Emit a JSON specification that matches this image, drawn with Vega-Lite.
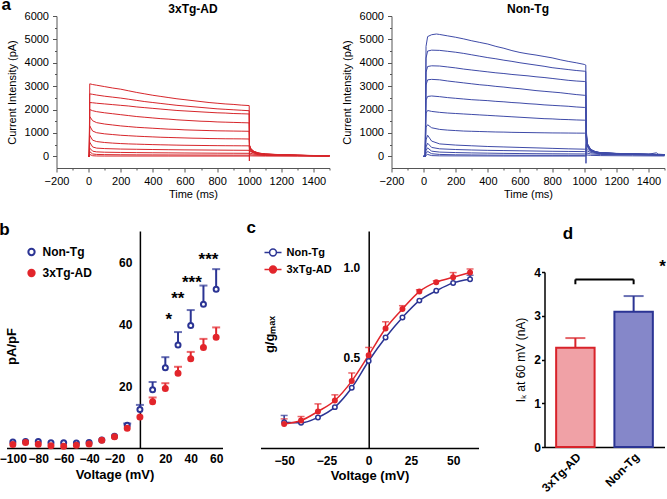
{
"$schema": "https://vega.github.io/schema/vega-lite/v6.json",
"padding": {"left": -1.5, "top": -4, "right": 0, "bottom": 0},
"background": "white",
"config": {
  "view": {"stroke": null},
  "font": "Liberation Sans",
  "axis": {"grid": false, "labelFlush": false, "labelOverlap": false, "domainColor": "#000", "tickColor": "#000", "labelColor": "#000", "titleColor": "#000", "labelFont": "Liberation Sans", "titleFont": "Liberation Sans"},
  "title": {"font": "Liberation Sans", "color": "#000"},
  "text": {"font": "Liberation Sans"}
},
"datasets": {
  "ad": [
    {"s":1,"t":0,"v":0},{"s":1,"t":4,"v":0},{"s":1,"t":7,"v":3100},{"s":1,"t":25,"v":3070},{"s":1,"t":50,"v":3040},{"s":1,"t":100,"v":2980},{"s":1,"t":150,"v":2920},{"s":1,"t":200,"v":2870},{"s":1,"t":250,"v":2800},{"s":1,"t":300,"v":2730},{"s":1,"t":350,"v":2670},{"s":1,"t":400,"v":2610},{"s":1,"t":450,"v":2560},{"s":1,"t":500,"v":2510},{"s":1,"t":550,"v":2460},{"s":1,"t":600,"v":2420},{"s":1,"t":650,"v":2380},{"s":1,"t":700,"v":2340},{"s":1,"t":750,"v":2300},{"s":1,"t":800,"v":2270},{"s":1,"t":850,"v":2240},{"s":1,"t":900,"v":2220},{"s":1,"t":950,"v":2190},{"s":1,"t":1000,"v":2170},{"s":1,"t":1001,"v":-200},{"s":1,"t":1002,"v":480},{"s":1,"t":1010,"v":330},{"s":1,"t":1030,"v":210},{"s":1,"t":1060,"v":140},{"s":1,"t":1100,"v":100},{"s":1,"t":1200,"v":70},{"s":1,"t":1300,"v":50},{"s":1,"t":1400,"v":35},{"s":1,"t":1500,"v":30},
    {"s":2,"t":0,"v":0},{"s":2,"t":4,"v":0},{"s":2,"t":7,"v":2670},{"s":2,"t":25,"v":2650},{"s":2,"t":50,"v":2620},{"s":2,"t":100,"v":2570},{"s":2,"t":150,"v":2530},{"s":2,"t":200,"v":2490},{"s":2,"t":250,"v":2440},{"s":2,"t":300,"v":2390},{"s":2,"t":350,"v":2340},{"s":2,"t":400,"v":2300},{"s":2,"t":450,"v":2260},{"s":2,"t":500,"v":2220},{"s":2,"t":550,"v":2180},{"s":2,"t":600,"v":2150},{"s":2,"t":650,"v":2120},{"s":2,"t":700,"v":2090},{"s":2,"t":750,"v":2060},{"s":2,"t":800,"v":2030},{"s":2,"t":850,"v":2010},{"s":2,"t":900,"v":1990},{"s":2,"t":950,"v":1970},{"s":2,"t":1000,"v":1950},{"s":2,"t":1002,"v":460},{"s":2,"t":1010,"v":320},{"s":2,"t":1030,"v":200},{"s":2,"t":1060,"v":135},{"s":2,"t":1100,"v":95},{"s":2,"t":1200,"v":65},{"s":2,"t":1300,"v":45},{"s":2,"t":1400,"v":30},{"s":2,"t":1500,"v":25},
    {"s":3,"t":0,"v":0},{"s":3,"t":4,"v":0},{"s":3,"t":7,"v":2300},{"s":3,"t":25,"v":2290},{"s":3,"t":50,"v":2270},{"s":3,"t":100,"v":2240},{"s":3,"t":150,"v":2210},{"s":3,"t":200,"v":2180},{"s":3,"t":250,"v":2150},{"s":3,"t":300,"v":2110},{"s":3,"t":350,"v":2080},{"s":3,"t":400,"v":2050},{"s":3,"t":450,"v":2020},{"s":3,"t":500,"v":1990},{"s":3,"t":550,"v":1960},{"s":3,"t":600,"v":1940},{"s":3,"t":650,"v":1920},{"s":3,"t":700,"v":1900},{"s":3,"t":750,"v":1880},{"s":3,"t":800,"v":1860},{"s":3,"t":850,"v":1850},{"s":3,"t":900,"v":1830},{"s":3,"t":950,"v":1820},{"s":3,"t":1000,"v":1810},{"s":3,"t":1002,"v":450},{"s":3,"t":1010,"v":310},{"s":3,"t":1030,"v":195},{"s":3,"t":1060,"v":130},{"s":3,"t":1100,"v":95},{"s":3,"t":1200,"v":65},{"s":3,"t":1300,"v":45},{"s":3,"t":1400,"v":30},{"s":3,"t":1500,"v":25},
    {"s":4,"t":0,"v":0},{"s":4,"t":4,"v":0},{"s":4,"t":7,"v":2000},{"s":4,"t":25,"v":1950},{"s":4,"t":50,"v":1910},{"s":4,"t":100,"v":1860},{"s":4,"t":150,"v":1820},{"s":4,"t":200,"v":1780},{"s":4,"t":250,"v":1740},{"s":4,"t":300,"v":1700},{"s":4,"t":350,"v":1670},{"s":4,"t":400,"v":1640},{"s":4,"t":450,"v":1610},{"s":4,"t":500,"v":1590},{"s":4,"t":550,"v":1560},{"s":4,"t":600,"v":1540},{"s":4,"t":650,"v":1520},{"s":4,"t":700,"v":1500},{"s":4,"t":750,"v":1490},{"s":4,"t":800,"v":1470},{"s":4,"t":850,"v":1460},{"s":4,"t":900,"v":1450},{"s":4,"t":950,"v":1440},{"s":4,"t":1000,"v":1430},{"s":4,"t":1002,"v":430},{"s":4,"t":1010,"v":300},{"s":4,"t":1030,"v":190},{"s":4,"t":1060,"v":125},{"s":4,"t":1100,"v":90},{"s":4,"t":1200,"v":60},{"s":4,"t":1300,"v":40},{"s":4,"t":1400,"v":30},{"s":4,"t":1500,"v":20},
    {"s":5,"t":0,"v":0},{"s":5,"t":4,"v":0},{"s":5,"t":7,"v":1700},{"s":5,"t":25,"v":1520},{"s":5,"t":50,"v":1440},{"s":5,"t":100,"v":1380},{"s":5,"t":150,"v":1340},{"s":5,"t":200,"v":1300},{"s":5,"t":250,"v":1270},{"s":5,"t":300,"v":1240},{"s":5,"t":350,"v":1220},{"s":5,"t":400,"v":1200},{"s":5,"t":450,"v":1180},{"s":5,"t":500,"v":1160},{"s":5,"t":550,"v":1150},{"s":5,"t":600,"v":1130},{"s":5,"t":650,"v":1120},{"s":5,"t":700,"v":1110},{"s":5,"t":750,"v":1100},{"s":5,"t":800,"v":1090},{"s":5,"t":850,"v":1085},{"s":5,"t":900,"v":1080},{"s":5,"t":950,"v":1075},{"s":5,"t":1000,"v":1070},{"s":5,"t":1002,"v":400},{"s":5,"t":1010,"v":280},{"s":5,"t":1030,"v":180},{"s":5,"t":1060,"v":120},{"s":5,"t":1100,"v":85},{"s":5,"t":1200,"v":60},{"s":5,"t":1300,"v":40},{"s":5,"t":1400,"v":30},{"s":5,"t":1500,"v":20},
    {"s":6,"t":0,"v":0},{"s":6,"t":4,"v":0},{"s":6,"t":7,"v":1300},{"s":6,"t":25,"v":1080},{"s":6,"t":50,"v":1010},{"s":6,"t":100,"v":960},{"s":6,"t":150,"v":930},{"s":6,"t":200,"v":900},{"s":6,"t":250,"v":880},{"s":6,"t":300,"v":860},{"s":6,"t":350,"v":845},{"s":6,"t":400,"v":830},{"s":6,"t":450,"v":815},{"s":6,"t":500,"v":805},{"s":6,"t":550,"v":795},{"s":6,"t":600,"v":785},{"s":6,"t":650,"v":775},{"s":6,"t":700,"v":770},{"s":6,"t":750,"v":760},{"s":6,"t":800,"v":755},{"s":6,"t":850,"v":750},{"s":6,"t":900,"v":748},{"s":6,"t":950,"v":745},{"s":6,"t":1000,"v":740},{"s":6,"t":1002,"v":360},{"s":6,"t":1010,"v":250},{"s":6,"t":1030,"v":170},{"s":6,"t":1060,"v":115},{"s":6,"t":1100,"v":80},{"s":6,"t":1200,"v":55},{"s":6,"t":1300,"v":40},{"s":6,"t":1400,"v":25},{"s":6,"t":1500,"v":20},
    {"s":7,"t":0,"v":0},{"s":7,"t":4,"v":0},{"s":7,"t":7,"v":900},{"s":7,"t":25,"v":690},{"s":7,"t":50,"v":630},{"s":7,"t":100,"v":590},{"s":7,"t":150,"v":565},{"s":7,"t":200,"v":545},{"s":7,"t":250,"v":530},{"s":7,"t":300,"v":520},{"s":7,"t":350,"v":510},{"s":7,"t":400,"v":500},{"s":7,"t":450,"v":492},{"s":7,"t":500,"v":485},{"s":7,"t":550,"v":478},{"s":7,"t":600,"v":472},{"s":7,"t":650,"v":468},{"s":7,"t":700,"v":463},{"s":7,"t":750,"v":459},{"s":7,"t":800,"v":456},{"s":7,"t":850,"v":453},{"s":7,"t":900,"v":451},{"s":7,"t":950,"v":449},{"s":7,"t":1000,"v":447},{"s":7,"t":1002,"v":300},{"s":7,"t":1010,"v":220},{"s":7,"t":1030,"v":150},{"s":7,"t":1060,"v":100},{"s":7,"t":1100,"v":75},{"s":7,"t":1200,"v":50},{"s":7,"t":1300,"v":35},{"s":7,"t":1400,"v":25},{"s":7,"t":1500,"v":20},
    {"s":8,"t":0,"v":0},{"s":8,"t":4,"v":0},{"s":8,"t":7,"v":600},{"s":8,"t":25,"v":400},{"s":8,"t":50,"v":350},{"s":8,"t":100,"v":330},{"s":8,"t":200,"v":310},{"s":8,"t":300,"v":300},{"s":8,"t":400,"v":290},{"s":8,"t":500,"v":282},{"s":8,"t":600,"v":275},{"s":8,"t":700,"v":270},{"s":8,"t":800,"v":265},{"s":8,"t":900,"v":260},{"s":8,"t":1000,"v":256},{"s":8,"t":1002,"v":220},{"s":8,"t":1030,"v":130},{"s":8,"t":1100,"v":70},{"s":8,"t":1300,"v":40},{"s":8,"t":1500,"v":20},
    {"s":9,"t":0,"v":0},{"s":9,"t":4,"v":0},{"s":9,"t":7,"v":350},{"s":9,"t":25,"v":220},{"s":9,"t":50,"v":190},{"s":9,"t":100,"v":175},{"s":9,"t":200,"v":165},{"s":9,"t":300,"v":158},{"s":9,"t":400,"v":152},{"s":9,"t":500,"v":147},{"s":9,"t":600,"v":142},{"s":9,"t":700,"v":138},{"s":9,"t":800,"v":134},{"s":9,"t":900,"v":131},{"s":9,"t":1000,"v":128},{"s":9,"t":1002,"v":140},{"s":9,"t":1030,"v":90},{"s":9,"t":1100,"v":50},{"s":9,"t":1300,"v":30},{"s":9,"t":1500,"v":15},
    {"s":10,"t":0,"v":0},{"s":10,"t":4,"v":0},{"s":10,"t":7,"v":200},{"s":10,"t":25,"v":100},{"s":10,"t":50,"v":80},{"s":10,"t":100,"v":72},{"s":10,"t":200,"v":66},{"s":10,"t":300,"v":62},{"s":10,"t":400,"v":60},{"s":10,"t":500,"v":58},{"s":10,"t":600,"v":56},{"s":10,"t":700,"v":54},{"s":10,"t":800,"v":53},{"s":10,"t":900,"v":51},{"s":10,"t":1000,"v":50},{"s":10,"t":1002,"v":70},{"s":10,"t":1030,"v":50},{"s":10,"t":1100,"v":35},{"s":10,"t":1300,"v":20},{"s":10,"t":1500,"v":10},
    {"s":11,"t":0,"v":0},{"s":11,"t":4,"v":0},{"s":11,"t":7,"v":80},{"s":11,"t":25,"v":25},{"s":11,"t":50,"v":15},{"s":11,"t":100,"v":12},{"s":11,"t":500,"v":11},{"s":11,"t":1000,"v":10},{"s":11,"t":1002,"v":20},{"s":11,"t":1030,"v":15},{"s":11,"t":1100,"v":10},{"s":11,"t":1300,"v":10},{"s":11,"t":1500,"v":5}
  ],
  "nt": [
    {"s":1,"t":0,"v":0},{"s":1,"t":10,"v":0},{"s":1,"t":15,"v":4700},{"s":1,"t":25,"v":5120},{"s":1,"t":50,"v":5200},{"s":1,"t":80,"v":5230},{"s":1,"t":100,"v":5210},{"s":1,"t":150,"v":5150},{"s":1,"t":200,"v":5090},{"s":1,"t":250,"v":5020},{"s":1,"t":300,"v":4940},{"s":1,"t":350,"v":4870},{"s":1,"t":400,"v":4800},{"s":1,"t":450,"v":4700},{"s":1,"t":500,"v":4620},{"s":1,"t":550,"v":4520},{"s":1,"t":600,"v":4440},{"s":1,"t":650,"v":4380},{"s":1,"t":700,"v":4330},{"s":1,"t":750,"v":4270},{"s":1,"t":800,"v":4210},{"s":1,"t":850,"v":4130},{"s":1,"t":900,"v":4060},{"s":1,"t":950,"v":4000},{"s":1,"t":1000,"v":3930},{"s":1,"t":1010,"v":3900},{"s":1,"t":1011,"v":-300},{"s":1,"t":1013,"v":1100},{"s":1,"t":1020,"v":550},{"s":1,"t":1040,"v":300},{"s":1,"t":1070,"v":200},{"s":1,"t":1100,"v":160},{"s":1,"t":1200,"v":125},{"s":1,"t":1300,"v":105},{"s":1,"t":1400,"v":90},{"s":1,"t":1450,"v":150},{"s":1,"t":1460,"v":90},{"s":1,"t":1500,"v":75},
    {"s":2,"t":0,"v":0},{"s":2,"t":10,"v":0},{"s":2,"t":15,"v":4200},{"s":2,"t":25,"v":4500},{"s":2,"t":50,"v":4540},{"s":2,"t":100,"v":4530},{"s":2,"t":150,"v":4490},{"s":2,"t":200,"v":4450},{"s":2,"t":250,"v":4400},{"s":2,"t":300,"v":4340},{"s":2,"t":350,"v":4280},{"s":2,"t":400,"v":4220},{"s":2,"t":450,"v":4170},{"s":2,"t":500,"v":4110},{"s":2,"t":550,"v":4060},{"s":2,"t":600,"v":4000},{"s":2,"t":650,"v":3950},{"s":2,"t":700,"v":3900},{"s":2,"t":750,"v":3850},{"s":2,"t":800,"v":3790},{"s":2,"t":850,"v":3750},{"s":2,"t":900,"v":3710},{"s":2,"t":950,"v":3670},{"s":2,"t":1000,"v":3640},{"s":2,"t":1010,"v":3630},{"s":2,"t":1013,"v":1000},{"s":2,"t":1020,"v":520},{"s":2,"t":1040,"v":290},{"s":2,"t":1070,"v":195},{"s":2,"t":1100,"v":155},{"s":2,"t":1200,"v":120},{"s":2,"t":1300,"v":100},{"s":2,"t":1400,"v":88},{"s":2,"t":1500,"v":75},
    {"s":3,"t":0,"v":0},{"s":3,"t":10,"v":0},{"s":3,"t":15,"v":3600},{"s":3,"t":25,"v":3840},{"s":3,"t":50,"v":3870},{"s":3,"t":100,"v":3860},{"s":3,"t":150,"v":3820},{"s":3,"t":200,"v":3780},{"s":3,"t":250,"v":3730},{"s":3,"t":300,"v":3690},{"s":3,"t":350,"v":3650},{"s":3,"t":400,"v":3610},{"s":3,"t":450,"v":3570},{"s":3,"t":500,"v":3540},{"s":3,"t":550,"v":3500},{"s":3,"t":600,"v":3470},{"s":3,"t":650,"v":3440},{"s":3,"t":700,"v":3400},{"s":3,"t":750,"v":3370},{"s":3,"t":800,"v":3330},{"s":3,"t":850,"v":3290},{"s":3,"t":900,"v":3250},{"s":3,"t":950,"v":3220},{"s":3,"t":1000,"v":3200},{"s":3,"t":1010,"v":3190},{"s":3,"t":1013,"v":950},{"s":3,"t":1020,"v":500},{"s":3,"t":1040,"v":280},{"s":3,"t":1070,"v":190},{"s":3,"t":1100,"v":150},{"s":3,"t":1200,"v":120},{"s":3,"t":1300,"v":100},{"s":3,"t":1400,"v":85},{"s":3,"t":1500,"v":70},
    {"s":4,"t":0,"v":0},{"s":4,"t":10,"v":0},{"s":4,"t":15,"v":3050},{"s":4,"t":25,"v":3270},{"s":4,"t":50,"v":3290},{"s":4,"t":100,"v":3270},{"s":4,"t":150,"v":3220},{"s":4,"t":200,"v":3180},{"s":4,"t":250,"v":3140},{"s":4,"t":300,"v":3100},{"s":4,"t":350,"v":3060},{"s":4,"t":400,"v":3030},{"s":4,"t":450,"v":2990},{"s":4,"t":500,"v":2960},{"s":4,"t":550,"v":2920},{"s":4,"t":600,"v":2890},{"s":4,"t":650,"v":2850},{"s":4,"t":700,"v":2810},{"s":4,"t":750,"v":2780},{"s":4,"t":800,"v":2750},{"s":4,"t":850,"v":2720},{"s":4,"t":900,"v":2680},{"s":4,"t":950,"v":2640},{"s":4,"t":1000,"v":2610},{"s":4,"t":1010,"v":2600},{"s":4,"t":1013,"v":900},{"s":4,"t":1020,"v":480},{"s":4,"t":1040,"v":270},{"s":4,"t":1070,"v":185},{"s":4,"t":1100,"v":148},{"s":4,"t":1200,"v":118},{"s":4,"t":1300,"v":98},{"s":4,"t":1400,"v":84},{"s":4,"t":1500,"v":70},
    {"s":5,"t":0,"v":0},{"s":5,"t":10,"v":0},{"s":5,"t":15,"v":2400},{"s":5,"t":25,"v":2560},{"s":5,"t":50,"v":2580},{"s":5,"t":100,"v":2550},{"s":5,"t":150,"v":2510},{"s":5,"t":200,"v":2480},{"s":5,"t":250,"v":2450},{"s":5,"t":300,"v":2420},{"s":5,"t":350,"v":2400},{"s":5,"t":400,"v":2380},{"s":5,"t":450,"v":2350},{"s":5,"t":500,"v":2330},{"s":5,"t":550,"v":2300},{"s":5,"t":600,"v":2280},{"s":5,"t":650,"v":2250},{"s":5,"t":700,"v":2230},{"s":5,"t":750,"v":2200},{"s":5,"t":800,"v":2180},{"s":5,"t":850,"v":2160},{"s":5,"t":900,"v":2140},{"s":5,"t":950,"v":2110},{"s":5,"t":1000,"v":2090},{"s":5,"t":1010,"v":2090},{"s":5,"t":1013,"v":850},{"s":5,"t":1020,"v":460},{"s":5,"t":1040,"v":260},{"s":5,"t":1070,"v":180},{"s":5,"t":1100,"v":145},{"s":5,"t":1200,"v":115},{"s":5,"t":1300,"v":96},{"s":5,"t":1400,"v":82},{"s":5,"t":1500,"v":68},
    {"s":6,"t":0,"v":0},{"s":6,"t":10,"v":0},{"s":6,"t":15,"v":1850},{"s":6,"t":25,"v":1960},{"s":6,"t":50,"v":1920},{"s":6,"t":100,"v":1880},{"s":6,"t":150,"v":1850},{"s":6,"t":200,"v":1830},{"s":6,"t":250,"v":1810},{"s":6,"t":300,"v":1790},{"s":6,"t":350,"v":1770},{"s":6,"t":400,"v":1750},{"s":6,"t":450,"v":1730},{"s":6,"t":500,"v":1710},{"s":6,"t":550,"v":1690},{"s":6,"t":600,"v":1670},{"s":6,"t":650,"v":1650},{"s":6,"t":700,"v":1630},{"s":6,"t":750,"v":1610},{"s":6,"t":800,"v":1600},{"s":6,"t":850,"v":1580},{"s":6,"t":900,"v":1570},{"s":6,"t":950,"v":1555},{"s":6,"t":1000,"v":1545},{"s":6,"t":1010,"v":1540},{"s":6,"t":1013,"v":800},{"s":6,"t":1020,"v":440},{"s":6,"t":1040,"v":250},{"s":6,"t":1070,"v":175},{"s":6,"t":1100,"v":140},{"s":6,"t":1200,"v":112},{"s":6,"t":1300,"v":94},{"s":6,"t":1400,"v":80},{"s":6,"t":1500,"v":66},
    {"s":7,"t":0,"v":0},{"s":7,"t":10,"v":0},{"s":7,"t":15,"v":1250},{"s":7,"t":25,"v":1350},{"s":7,"t":50,"v":1220},{"s":7,"t":100,"v":1150},{"s":7,"t":150,"v":1120},{"s":7,"t":200,"v":1100},{"s":7,"t":250,"v":1080},{"s":7,"t":300,"v":1070},{"s":7,"t":350,"v":1060},{"s":7,"t":400,"v":1050},{"s":7,"t":450,"v":1040},{"s":7,"t":500,"v":1035},{"s":7,"t":550,"v":1025},{"s":7,"t":600,"v":1020},{"s":7,"t":650,"v":1015},{"s":7,"t":700,"v":1010},{"s":7,"t":750,"v":1005},{"s":7,"t":800,"v":1000},{"s":7,"t":850,"v":998},{"s":7,"t":900,"v":995},{"s":7,"t":950,"v":992},{"s":7,"t":1000,"v":990},{"s":7,"t":1010,"v":990},{"s":7,"t":1013,"v":700},{"s":7,"t":1020,"v":400},{"s":7,"t":1040,"v":240},{"s":7,"t":1070,"v":170},{"s":7,"t":1100,"v":135},{"s":7,"t":1200,"v":110},{"s":7,"t":1300,"v":92},{"s":7,"t":1400,"v":78},{"s":7,"t":1500,"v":64},
    {"s":8,"t":0,"v":0},{"s":8,"t":10,"v":0},{"s":8,"t":15,"v":700},{"s":8,"t":25,"v":900},{"s":8,"t":50,"v":650},{"s":8,"t":100,"v":530},{"s":8,"t":200,"v":480},{"s":8,"t":300,"v":450},{"s":8,"t":400,"v":420},{"s":8,"t":500,"v":400},{"s":8,"t":600,"v":380},{"s":8,"t":700,"v":360},{"s":8,"t":800,"v":340},{"s":8,"t":900,"v":320},{"s":8,"t":1000,"v":305},{"s":8,"t":1010,"v":300},{"s":8,"t":1013,"v":500},{"s":8,"t":1040,"v":230},{"s":8,"t":1100,"v":130},{"s":8,"t":1300,"v":90},{"s":8,"t":1500,"v":60},
    {"s":9,"t":0,"v":0},{"s":9,"t":10,"v":0},{"s":9,"t":15,"v":400},{"s":9,"t":25,"v":560},{"s":9,"t":50,"v":380},{"s":9,"t":100,"v":320},{"s":9,"t":200,"v":290},{"s":9,"t":300,"v":270},{"s":9,"t":400,"v":255},{"s":9,"t":500,"v":245},{"s":9,"t":600,"v":235},{"s":9,"t":700,"v":225},{"s":9,"t":800,"v":215},{"s":9,"t":900,"v":208},{"s":9,"t":1000,"v":202},{"s":9,"t":1010,"v":200},{"s":9,"t":1013,"v":350},{"s":9,"t":1040,"v":200},{"s":9,"t":1100,"v":120},{"s":9,"t":1300,"v":85},{"s":9,"t":1500,"v":55},
    {"s":10,"t":0,"v":0},{"s":10,"t":10,"v":0},{"s":10,"t":15,"v":250},{"s":10,"t":25,"v":360},{"s":10,"t":50,"v":220},{"s":10,"t":100,"v":180},{"s":10,"t":200,"v":160},{"s":10,"t":300,"v":145},{"s":10,"t":400,"v":135},{"s":10,"t":500,"v":125},{"s":10,"t":600,"v":118},{"s":10,"t":700,"v":112},{"s":10,"t":800,"v":108},{"s":10,"t":900,"v":104},{"s":10,"t":1000,"v":100},{"s":10,"t":1010,"v":100},{"s":10,"t":1013,"v":250},{"s":10,"t":1040,"v":160},{"s":10,"t":1100,"v":100},{"s":10,"t":1300,"v":75},{"s":10,"t":1500,"v":50},
    {"s":11,"t":0,"v":0},{"s":11,"t":10,"v":0},{"s":11,"t":15,"v":120},{"s":11,"t":25,"v":210},{"s":11,"t":50,"v":110},{"s":11,"t":100,"v":80},{"s":11,"t":200,"v":65},{"s":11,"t":300,"v":58},{"s":11,"t":400,"v":52},{"s":11,"t":500,"v":48},{"s":11,"t":600,"v":45},{"s":11,"t":700,"v":43},{"s":11,"t":800,"v":42},{"s":11,"t":900,"v":41},{"s":11,"t":1000,"v":40},{"s":11,"t":1010,"v":40},{"s":11,"t":1013,"v":150},{"s":11,"t":1040,"v":100},{"s":11,"t":1100,"v":80},{"s":11,"t":1300,"v":60},{"s":11,"t":1500,"v":40},
    {"s":12,"t":0,"v":0},{"s":12,"t":10,"v":0},{"s":12,"t":15,"v":40},{"s":12,"t":25,"v":80},{"s":12,"t":50,"v":30},{"s":12,"t":100,"v":20},{"s":12,"t":500,"v":12},{"s":12,"t":1010,"v":10},{"s":12,"t":1013,"v":60},{"s":12,"t":1040,"v":40},{"s":12,"t":1100,"v":30},{"s":12,"t":1300,"v":20},{"s":12,"t":1500,"v":15}
  ],
  "iv": [
    {"g":"Non-Tg","v":-100,"m":1.9},{"g":"Non-Tg","v":-90,"m":2.1},{"g":"Non-Tg","v":-80,"m":2.1},{"g":"Non-Tg","v":-70,"m":1.7},{"g":"Non-Tg","v":-60,"m":1.7},{"g":"Non-Tg","v":-50,"m":1.6},{"g":"Non-Tg","v":-40,"m":1.8},{"g":"Non-Tg","v":-30,"m":2.6},{"g":"Non-Tg","v":-20,"m":3.8},{"g":"Non-Tg","v":-10,"m":7.3,"e":7.9},{"g":"Non-Tg","v":0,"m":12.4,"e":13.9},{"g":"Non-Tg","v":10,"m":18.8,"e":21.3},{"g":"Non-Tg","v":20,"m":25.9,"e":29.3},{"g":"Non-Tg","v":30,"m":33.2,"e":37.4},{"g":"Non-Tg","v":40,"m":39.5,"e":44.5},{"g":"Non-Tg","v":50,"m":46.4,"e":52.4},{"g":"Non-Tg","v":60,"m":51.2,"e":57.7},
    {"g":"3xTg-AD","v":-100,"m":1.1},{"g":"3xTg-AD","v":-90,"m":1.8},{"g":"3xTg-AD","v":-80,"m":1.2},{"g":"3xTg-AD","v":-70,"m":0.7},{"g":"3xTg-AD","v":-60,"m":0.6},{"g":"3xTg-AD","v":-50,"m":0.9},{"g":"3xTg-AD","v":-40,"m":1.3},{"g":"3xTg-AD","v":-30,"m":2.5},{"g":"3xTg-AD","v":-20,"m":3.6},{"g":"3xTg-AD","v":-10,"m":6.4},{"g":"3xTg-AD","v":0,"m":10.0},{"g":"3xTg-AD","v":10,"m":14.9,"e":16.3},{"g":"3xTg-AD","v":20,"m":19.2,"e":20.9},{"g":"3xTg-AD","v":30,"m":24.1,"e":26.2},{"g":"3xTg-AD","v":40,"m":28.8,"e":31.0},{"g":"3xTg-AD","v":50,"m":32.4,"e":35.2},{"g":"3xTg-AD","v":60,"m":35.7,"e":38.9}
  ],
  "stars": [
    {"v":22.8,"m":41.4,"t":"*"},{"v":29.8,"m":48.0,"t":"**"},{"v":40.9,"m":53.3,"t":"***"},{"v":54.0,"m":60.6,"t":"***"}
  ],
  "gv": [
    {"g":"Non-Tg","v":-50,"m":0.143,"e":0.18},{"g":"Non-Tg","v":-40,"m":0.139},{"g":"Non-Tg","v":-30,"m":0.169},{"g":"Non-Tg","v":-20,"m":0.226},{"g":"Non-Tg","v":-10,"m":0.333},{"g":"Non-Tg","v":0,"m":0.481},{"g":"Non-Tg","v":10,"m":0.611},{"g":"Non-Tg","v":20,"m":0.722},{"g":"Non-Tg","v":30,"m":0.815},{"g":"Non-Tg","v":40,"m":0.869},{"g":"Non-Tg","v":50,"m":0.913},{"g":"Non-Tg","v":60,"m":0.933,"e":0.955},
    {"g":"3xTg-AD","v":-50,"m":0.133,"e":0.161},{"g":"3xTg-AD","v":-40,"m":0.152,"e":0.174},{"g":"3xTg-AD","v":-30,"m":0.202,"e":0.244},{"g":"3xTg-AD","v":-20,"m":0.263,"e":0.294},{"g":"3xTg-AD","v":-10,"m":0.370,"e":0.415},{"g":"3xTg-AD","v":0,"m":0.513,"e":0.556},{"g":"3xTg-AD","v":10,"m":0.661,"e":0.698},{"g":"3xTg-AD","v":20,"m":0.769,"e":0.787},{"g":"3xTg-AD","v":30,"m":0.865,"e":0.875},{"g":"3xTg-AD","v":40,"m":0.917,"e":0.925},{"g":"3xTg-AD","v":50,"m":0.944,"e":0.970},{"g":"3xTg-AD","v":60,"m":0.970,"e":0.990}
  ],
  "clab": [{"v":-72.3,"m":1.189,"t":"c"}],
  "bar": [
    {"g":"Non-Tg","m":3.09,"e":3.45},{"g":"3xTg-AD","m":2.27,"e":2.49}
  ],
  "brk": [{"g":"Non-Tg","g2":"3xTg-AD","m":3.83}],
  "legs": [{"g":"Non-Tg","m":3.72,"e":3.83},{"g":"3xTg-AD","m":3.72,"e":3.83}],
  "sig": [{"g":"Non-Tg","m":4.11,"t":"*"}],
  "dlab": [{"lg":"Non-Tg","ly":4.754,"lt":"d"}]
},
"spacing": 215,
"bounds": "flush",
"resolve": {"scale": {"color": "independent", "fill": "independent", "stroke": "independent"}, "legend": {"color": "independent", "fill": "independent", "stroke": "independent"}},
"vconcat": [
  {
    "spacing": 0,
    "bounds": "flush",
    "hconcat": [
      {"width": 50, "height": 152, "title": {"text": "a", "anchor": "start", "frame": "group", "fontSize": 17, "fontWeight": "bold", "offset": -11, "dx": -5, "baseline": "alphabetic"}, "data": {"values": []}, "mark": {"type": "point", "opacity": 0}},
      {
        "width": 273, "height": 152,
        "title": {"text": "3xTg-AD", "fontSize": 12, "fontWeight": "bold", "anchor": "middle", "frame": "group", "offset": -14.5, "baseline": "alphabetic"},
        "data": {"name": "ad"},
        "mark": {"type": "line", "color": "#d7262b", "strokeWidth": 1},
        "encoding": {
          "x": {"field": "t", "type": "quantitative", "scale": {"domain": [-200, 1500], "nice": false, "zero": false},
                "axis": {"values": [-200,-100,0,100,200,300,400,500,600,700,800,900,1000,1100,1200,1300,1400,1500], "format": "d", "labelExpr": "datum.value % 200 == 0 ? datum.label : ''", "tickSize": {"condition": {"test": "datum.value % 200 == 0", "value": 4}, "value": 2}, "labelFontSize": 11, "labelPadding": 3, "title": "Time (ms)", "titleFontSize": 11, "titleFontWeight": "normal", "titlePadding": 2, "domainColor": "#555", "tickColor": "#555"}},
          "y": {"field": "v", "type": "quantitative", "scale": {"domain": [-500, 6000], "nice": false},
                "axis": {"values": [0,500,1000,1500,2000,2500,3000,3500,4000,4500,5000,5500,6000], "format": "d", "labelExpr": "datum.value % 1000 == 0 ? datum.label : ''", "tickSize": {"condition": {"test": "datum.value % 1000 == 0", "value": 4}, "value": 2}, "labelFontSize": 11, "labelPadding": 4, "title": "Current Intensity (pA)", "titleFontSize": 11, "titleFontWeight": "normal", "titlePadding": 7, "domainColor": "#555", "tickColor": "#555"}},
          "detail": {"field": "s", "type": "nominal"}
        }
      },
      {"width": 62, "height": 152, "data": {"values": []}, "mark": {"type": "point", "opacity": 0}},
      {
        "width": 273, "height": 152,
        "title": {"text": "Non-Tg", "fontSize": 12, "fontWeight": "bold", "anchor": "middle", "frame": "group", "offset": -14.5, "baseline": "alphabetic"},
        "data": {"name": "nt"},
        "mark": {"type": "line", "color": "#3f4ba8", "strokeWidth": 1},
        "encoding": {
          "x": {"field": "t", "type": "quantitative", "scale": {"domain": [-200, 1500], "nice": false, "zero": false},
                "axis": {"values": [-200,-100,0,100,200,300,400,500,600,700,800,900,1000,1100,1200,1300,1400,1500], "format": "d", "labelExpr": "datum.value % 200 == 0 ? datum.label : ''", "tickSize": {"condition": {"test": "datum.value % 200 == 0", "value": 4}, "value": 2}, "labelFontSize": 11, "labelPadding": 3, "title": "Time (ms)", "titleFontSize": 11, "titleFontWeight": "normal", "titlePadding": 2, "domainColor": "#555", "tickColor": "#555"}},
          "y": {"field": "v", "type": "quantitative", "scale": {"domain": [-500, 6000], "nice": false},
                "axis": {"values": [0,500,1000,1500,2000,2500,3000,3500,4000,4500,5000,5500,6000], "format": "d", "labelExpr": "datum.value % 1000 == 0 ? datum.label : ''", "tickSize": {"condition": {"test": "datum.value % 1000 == 0", "value": 4}, "value": 2}, "labelFontSize": 11, "labelPadding": 4, "title": "Current Intensity (pA)", "titleFontSize": 11, "titleFontWeight": "normal", "titlePadding": 7, "domainColor": "#555", "tickColor": "#555"}},
          "detail": {"field": "s", "type": "nominal"}
        }
      }
    ]
  },
  {
    "spacing": 0,
    "bounds": "flush",
    "resolve": {"scale": {"color": "independent", "fill": "independent", "stroke": "independent"}, "legend": {"color": "independent", "fill": "independent", "stroke": "independent"}},
    "hconcat": [
      {
        "width": 216, "height": 217,
        "title": {"text": "b", "anchor": "start", "frame": "bounds", "fontSize": 17, "fontWeight": "bold", "offset": -21, "baseline": "alphabetic"},
        "data": {"name": "iv"},
        "encoding": {
          "x": {"field": "v", "type": "quantitative", "scale": {"domain": [-105, 65], "nice": false, "zero": false},
                "axis": {"values": [-100,-80,-60,-40,-20,0,20,40,60], "format": "d", "labelFontSize": 12, "labelFontWeight": "bold", "ticks": false, "labelPadding": 5, "domainWidth": 1.5, "title": "Voltage (mV)", "titleFontSize": 13, "titleFontWeight": "bold", "titlePadding": 4}}
        },
        "layer": [
          {
            "transform": [{"filter": {"field": "e", "valid": true}}],
            "mark": {"type": "rule", "strokeWidth": 2},
            "encoding": {
              "y": {"field": "m", "type": "quantitative", "scale": {"domain": [0, 70], "nice": false}, "axis": {"values": [20,40,60], "format": "d", "offset": -133.4, "labelFontSize": 12, "labelFontWeight": "bold", "ticks": false, "labelPadding": 8, "domainWidth": 1.5, "title": "pA/pF", "titleFontSize": 13, "titleFontWeight": "bold", "titleX": -121, "titleY": 115}},
              "y2": {"field": "e"},
              "color": {"field": "g", "type": "nominal", "scale": {"domain": ["3xTg-AD", "Non-Tg"], "range": ["#e2252b", "#2b3494"]}, "legend": null}
            }
          },
          {
            "transform": [{"filter": {"field": "e", "valid": true}}],
            "mark": {"type": "tick", "orient": "horizontal", "size": 8, "thickness": 2},
            "encoding": {
              "y": {"field": "e", "type": "quantitative", "axis": {"values": [20,40,60], "format": "d", "offset": -133.4, "labelFontSize": 12, "labelFontWeight": "bold", "ticks": false, "labelPadding": 8, "domainWidth": 1.5, "title": "pA/pF", "titleFontSize": 13, "titleFontWeight": "bold", "titleX": -121, "titleY": 115}},
              "color": {"field": "g", "type": "nominal", "scale": {"domain": ["3xTg-AD", "Non-Tg"], "range": ["#e2252b", "#2b3494"]}, "legend": null}
            }
          },
          {
            "mark": {"type": "point", "size": 25, "strokeWidth": 2, "opacity": 1},
            "encoding": {
              "y": {"field": "m", "type": "quantitative", "axis": {"values": [20,40,60], "format": "d", "offset": -133.4, "labelFontSize": 12, "labelFontWeight": "bold", "ticks": false, "labelPadding": 8, "domainWidth": 1.5, "title": "pA/pF", "titleFontSize": 13, "titleFontWeight": "bold", "titleX": -121, "titleY": 115}},
              "stroke": {"field": "g", "type": "nominal", "scale": {"domain": ["Non-Tg", "3xTg-AD"], "range": ["#2b3494", "#e2252b"]},
                         "legend": {"title": null, "orient": "none", "legendX": 19, "legendY": 15, "direction": "vertical", "labelFontSize": 12, "labelFontWeight": "bold", "labelFont": "Liberation Sans", "labelColor": "#000", "symbolSize": 40, "symbolStrokeWidth": 2, "rowPadding": 5, "labelOffset": 5, "symbolType": "circle"}},
              "fill": {"field": "g", "type": "nominal", "scale": {"domain": ["Non-Tg", "3xTg-AD"], "range": ["#ffffff", "#e2252b"]},
                         "legend": {"title": null, "orient": "none", "legendX": 19, "legendY": 15, "direction": "vertical", "labelFontSize": 12, "labelFontWeight": "bold", "labelFont": "Liberation Sans", "labelColor": "#000", "symbolSize": 40, "symbolStrokeWidth": 2, "rowPadding": 5, "labelOffset": 5, "symbolType": "circle"}}
            }
          },
          {
            "data": {"name": "stars"},
            "mark": {"type": "text", "fontSize": 17, "fontWeight": "bold", "color": "#000", "baseline": "middle"},
            "encoding": {
              "y": {"field": "m", "type": "quantitative", "axis": {"values": [20,40,60], "format": "d", "offset": -133.4, "labelFontSize": 12, "labelFontWeight": "bold", "ticks": false, "labelPadding": 8, "domainWidth": 1.5, "title": "pA/pF", "titleFontSize": 13, "titleFontWeight": "bold", "titleX": -121, "titleY": 115}},
              "text": {"field": "t"}
            }
          }
        ]
      },
      {"width": 38, "height": 217, "data": {"values": []}, "mark": {"type": "point", "opacity": 0}},
      {
        "width": 218, "height": 217,
        "data": {"name": "gv"},
        "encoding": {
          "x": {"field": "v", "type": "quantitative", "scale": {"domain": [-64, 65], "nice": false, "zero": false},
                "axis": {"values": [-50,-25,0,25,50], "format": "d", "labelFontSize": 12, "labelFontWeight": "bold", "ticks": false, "labelPadding": 7, "domainWidth": 1.5, "title": "Voltage (mV)", "titleFontSize": 13, "titleFontWeight": "bold", "titlePadding": 3}}
        },
        "layer": [
          {
            "mark": {"type": "line", "interpolate": "monotone", "strokeWidth": 1.5},
            "encoding": {
              "y": {"field": "m", "type": "quantitative", "scale": {"domain": [0, 1.2], "nice": false, "clamp": false}, "axis": {"values": [0.5, 1.0], "format": ".1f", "offset": -108.2, "labelFontSize": 12, "labelFontWeight": "bold", "ticks": false, "labelPadding": 9, "domainWidth": 1.5, "title": "g/gₘₐₓ", "titleFontSize": 13, "titleFontWeight": "bold", "titleX": -92, "titleY": 103}},
              "color": {"field": "g", "type": "nominal", "scale": {"domain": ["3xTg-AD", "Non-Tg"], "range": ["#e2252b", "#2b3494"]}, "legend": null}
            }
          },
          {
            "transform": [{"filter": {"field": "e", "valid": true}}],
            "mark": {"type": "rule", "strokeWidth": 1.5},
            "encoding": {
              "y": {"field": "m", "type": "quantitative", "axis": {"values": [0.5, 1.0], "format": ".1f", "offset": -108.2, "labelFontSize": 12, "labelFontWeight": "bold", "ticks": false, "labelPadding": 9, "domainWidth": 1.5, "title": "g/gₘₐₓ", "titleFontSize": 13, "titleFontWeight": "bold", "titleX": -92, "titleY": 103}},
              "y2": {"field": "e"},
              "color": {"field": "g", "type": "nominal", "scale": {"domain": ["3xTg-AD", "Non-Tg"], "range": ["#e2252b", "#2b3494"]}, "legend": null}
            }
          },
          {
            "transform": [{"filter": {"field": "e", "valid": true}}],
            "mark": {"type": "tick", "orient": "horizontal", "size": 7, "thickness": 1.5},
            "encoding": {
              "y": {"field": "e", "type": "quantitative", "axis": {"values": [0.5, 1.0], "format": ".1f", "offset": -108.2, "labelFontSize": 12, "labelFontWeight": "bold", "ticks": false, "labelPadding": 9, "domainWidth": 1.5, "title": "g/gₘₐₓ", "titleFontSize": 13, "titleFontWeight": "bold", "titleX": -92, "titleY": 103}},
              "color": {"field": "g", "type": "nominal", "scale": {"domain": ["3xTg-AD", "Non-Tg"], "range": ["#e2252b", "#2b3494"]}, "legend": null}
            }
          },
          {
            "mark": {"type": "point", "size": 20, "strokeWidth": 1.5, "opacity": 1},
            "encoding": {
              "y": {"field": "m", "type": "quantitative", "axis": {"values": [0.5, 1.0], "format": ".1f", "offset": -108.2, "labelFontSize": 12, "labelFontWeight": "bold", "ticks": false, "labelPadding": 9, "domainWidth": 1.5, "title": "g/gₘₐₓ", "titleFontSize": 13, "titleFontWeight": "bold", "titleX": -92, "titleY": 103}},
              "stroke": {"field": "g", "type": "nominal", "scale": {"domain": ["Non-Tg", "3xTg-AD"], "range": ["#2b3494", "#e2252b"]},
                         "legend": {"title": null, "orient": "none", "legendX": 3, "legendY": 12, "direction": "vertical", "labelFontSize": 11, "labelFontWeight": "bold", "labelFont": "Liberation Sans", "labelColor": "#000", "symbolSize": 289, "symbolStrokeWidth": 1.5, "rowPadding": 1, "labelOffset": 4, "symbolType": "M-1,0H-0.4M0.4,0H1M0.4,0A0.4,0.4,0,1,1,-0.4,0A0.4,0.4,0,1,1,0.4,0"}},
              "fill": {"field": "g", "type": "nominal", "scale": {"domain": ["Non-Tg", "3xTg-AD"], "range": ["#ffffff", "#e2252b"]},
                         "legend": {"title": null, "orient": "none", "legendX": 3, "legendY": 12, "direction": "vertical", "labelFontSize": 11, "labelFontWeight": "bold", "labelFont": "Liberation Sans", "labelColor": "#000", "symbolSize": 289, "symbolStrokeWidth": 1.5, "rowPadding": 1, "labelOffset": 4, "symbolType": "M-1,0H-0.4M0.4,0H1M0.4,0A0.4,0.4,0,1,1,-0.4,0A0.4,0.4,0,1,1,0.4,0"}}
            }
          },
          {
            "data": {"name": "clab"},
            "mark": {"type": "text", "fontSize": 17, "fontWeight": "bold", "color": "#000", "align": "left", "baseline": "alphabetic"},
            "encoding": {
              "y": {"field": "m", "type": "quantitative", "axis": {"values": [0.5, 1.0], "format": ".1f", "offset": -108.2, "labelFontSize": 12, "labelFontWeight": "bold", "ticks": false, "labelPadding": 9, "domainWidth": 1.5, "title": "g/gₘₐₓ", "titleFontSize": 13, "titleFontWeight": "bold", "titleX": -92, "titleY": 103}},
              "text": {"field": "t"}
            }
          }
        ]
      },
      {"width": 66, "height": 217, "data": {"values": []}, "mark": {"type": "point", "opacity": 0}},
      {
        "spacing": 0,
        "bounds": "flush",
        "resolve": {"scale": {"color": "independent", "fill": "independent", "stroke": "independent"}, "legend": {"color": "independent", "fill": "independent", "stroke": "independent"}},
        "vconcat": [
          {"width": 120, "height": 41, "data": {"values": []}, "mark": {"type": "point", "opacity": 0}},
          {
            "width": 120, "height": 175,
            "data": {"name": "bar"},
            "encoding": {
              "x": {"field": "g", "type": "nominal", "sort": ["Non-Tg", "3xTg-AD"], "scale": {"paddingInner": 0.34, "paddingOuter": 0.2},
                    "axis": {"labelAngle": -45, "labelFontSize": 12, "labelFontWeight": "bold", "ticks": false, "labelPadding": 4, "domainWidth": 1.5, "title": null}}
            },
            "layer": [
              {
                "mark": {"type": "bar", "strokeWidth": 2},
                "encoding": {
                  "y": {"field": "m", "type": "quantitative", "scale": {"domain": [0, 4], "nice": false, "clamp": false}, "axis": {"values": [0,1,2,3,4], "format": "d", "labelFontSize": 12, "labelFontWeight": "bold", "tickSize": 3, "tickWidth": 1.5, "labelPadding": 1, "domainWidth": 1.5, "title": "Iₖ at 60 mV (nA)", "titleFontSize": 12, "titleFontWeight": "normal", "titlePadding": 6}},
                  "fill": {"field": "g", "type": "nominal", "scale": {"domain": ["Non-Tg", "3xTg-AD"], "range": ["#8587c9", "#f0a1a6"]}, "legend": null},
                  "stroke": {"field": "g", "type": "nominal", "scale": {"domain": ["Non-Tg", "3xTg-AD"], "range": ["#2b3494", "#d8232a"]}, "legend": null}
                }
              },
              {
                "mark": {"type": "rule", "strokeWidth": 2},
                "encoding": {
                  "y": {"field": "m", "type": "quantitative", "axis": {"values": [0,1,2,3,4], "format": "d", "labelFontSize": 12, "labelFontWeight": "bold", "tickSize": 3, "tickWidth": 1.5, "labelPadding": 1, "domainWidth": 1.5, "title": "Iₖ at 60 mV (nA)", "titleFontSize": 12, "titleFontWeight": "normal", "titlePadding": 6}},
                  "y2": {"field": "e"},
                  "color": {"field": "g", "type": "nominal", "scale": {"domain": ["Non-Tg", "3xTg-AD"], "range": ["#2b3494", "#d8232a"]}, "legend": null}
                }
              },
              {
                "mark": {"type": "tick", "orient": "horizontal", "size": 20, "thickness": 2},
                "encoding": {
                  "y": {"field": "e", "type": "quantitative", "axis": {"values": [0,1,2,3,4], "format": "d", "labelFontSize": 12, "labelFontWeight": "bold", "tickSize": 3, "tickWidth": 1.5, "labelPadding": 1, "domainWidth": 1.5, "title": "Iₖ at 60 mV (nA)", "titleFontSize": 12, "titleFontWeight": "normal", "titlePadding": 6}},
                  "color": {"field": "g", "type": "nominal", "scale": {"domain": ["Non-Tg", "3xTg-AD"], "range": ["#2b3494", "#d8232a"]}, "legend": null}
                }
              },
              {
                "data": {"name": "brk"},
                "mark": {"type": "rule", "strokeWidth": 2, "color": "#000"},
                "encoding": {
                  "x2": {"field": "g2"},
                  "y": {"field": "m", "type": "quantitative", "axis": {"values": [0,1,2,3,4], "format": "d", "labelFontSize": 12, "labelFontWeight": "bold", "tickSize": 3, "tickWidth": 1.5, "labelPadding": 1, "domainWidth": 1.5, "title": "Iₖ at 60 mV (nA)", "titleFontSize": 12, "titleFontWeight": "normal", "titlePadding": 6}}
                }
              },
              {
                "data": {"name": "legs"},
                "mark": {"type": "rule", "strokeWidth": 2, "color": "#000"},
                "encoding": {
                  "y": {"field": "m", "type": "quantitative", "axis": {"values": [0,1,2,3,4], "format": "d", "labelFontSize": 12, "labelFontWeight": "bold", "tickSize": 3, "tickWidth": 1.5, "labelPadding": 1, "domainWidth": 1.5, "title": "Iₖ at 60 mV (nA)", "titleFontSize": 12, "titleFontWeight": "normal", "titlePadding": 6}},
                  "y2": {"field": "e"}
                }
              },
              {
                "data": {"name": "sig"},
                "mark": {"type": "text", "fontSize": 17, "fontWeight": "bold", "color": "#000", "baseline": "middle"},
                "encoding": {
                  "x": {"field": "g", "type": "nominal", "sort": ["Non-Tg", "3xTg-AD"], "bandPosition": 1.25},
                  "y": {"field": "m", "type": "quantitative", "axis": {"values": [0,1,2,3,4], "format": "d", "labelFontSize": 12, "labelFontWeight": "bold", "tickSize": 3, "tickWidth": 1.5, "labelPadding": 1, "domainWidth": 1.5, "title": "Iₖ at 60 mV (nA)", "titleFontSize": 12, "titleFontWeight": "normal", "titlePadding": 6}},
                  "text": {"field": "t"}
                }
              },
              {
                "data": {"name": "dlab"},
                "mark": {"type": "text", "fontSize": 17, "fontWeight": "bold", "color": "#000", "align": "left", "baseline": "alphabetic"},
                "encoding": {
                  "x": {"field": "lg", "type": "nominal", "sort": ["Non-Tg", "3xTg-AD"], "bandPosition": -1.343, "axis": {"labelAngle": -45, "labelFontSize": 12, "labelFontWeight": "bold", "ticks": false, "labelPadding": 4, "domainWidth": 1.5, "title": null}},
                  "y": {"field": "ly", "type": "quantitative", "axis": {"values": [0,1,2,3,4], "format": "d", "labelFontSize": 12, "labelFontWeight": "bold", "tickSize": 3, "tickWidth": 1.5, "labelPadding": 1, "domainWidth": 1.5, "title": "Iₖ at 60 mV (nA)", "titleFontSize": 12, "titleFontWeight": "normal", "titlePadding": 6}},
                  "text": {"field": "lt"}
                }
              }
            ]
          }
        ]
      }
    ]
  }
]
}
